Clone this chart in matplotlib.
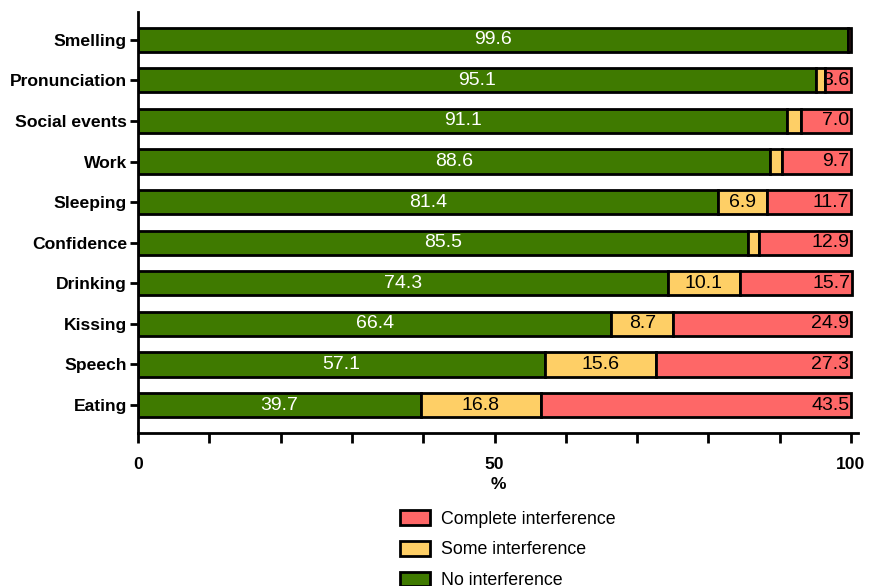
import matplotlib.pyplot as plt
from matplotlib.ticker import MultipleLocator
import numpy as np

plt.rcParams['font.family'] = ['Liberation Sans', 'DejaVu Sans']

# Data (top to bottom in the chart)
categories = ['Smelling', 'Pronunciation', 'Social events', 'Work', 'Sleeping',
              'Confidence', 'Drinking', 'Kissing', 'Speech', 'Eating']
no_int = [99.6, 95.1, 91.1, 88.6, 81.4, 85.5, 74.3, 66.4, 57.1, 39.7]
some_int = [0.0, 1.3, 1.9, 1.7, 6.9, 1.6, 10.1, 8.7, 15.6, 16.8]
complete_int = [0.4, 3.6, 7.0, 9.7, 11.7, 12.9, 15.7, 24.9, 27.3, 43.5]

green = '#3f7a00'
yellow = '#fecf66'
red = '#fe6767'

fig = plt.figure(figsize=(8.8, 5.86), dpi=100)
ax = fig.add_axes([0.157, 0.261, 0.818, 0.719])

y = np.arange(len(categories))[::-1]
h = 0.6
kw = dict(height=h, edgecolor='black', linewidth=2)
b1 = ax.barh(y, no_int, color=green, label='No interference', **kw)
b2 = ax.barh(y, some_int, left=no_int, color=yellow, label='Some interference', **kw)
left3 = [a + b for a, b in zip(no_int, some_int)]
b3 = ax.barh(y, complete_int, left=left3, color=red, label='Complete interference', **kw)

for yi, g, s, c, l3 in zip(y, no_int, some_int, complete_int, left3):
    ax.text(g / 2, yi, f'{g:.1f}', ha='center', va='center', color='white', fontsize=14)
    if s >= 5:
        ax.text(g + s / 2, yi, f'{s:.1f}', ha='center', va='center', color='black', fontsize=14)
    if c >= 3:
        ax.text(l3 + c - 0.2, yi, f'{c:.1f}', ha='right', va='center', color='black', fontsize=14)

ax.set_xlim(0, 101)
ax.set_ylim(-0.69, len(categories) - 0.31)
ax.set_yticks(y)
ax.set_yticklabels(categories, fontweight='bold', fontsize=12.6)
ax.xaxis.set_minor_locator(MultipleLocator(10))
ax.set_xticks([0, 50, 100])
ax.set_xticklabels(['0', '50', '100'], fontweight='bold', fontsize=12.6)
ax.tick_params(axis='x', which='major', length=7, width=2, pad=10)
ax.tick_params(axis='x', which='minor', length=7, width=2)
ax.tick_params(axis='y', length=6, width=2, pad=2)
ax.set_xlabel('%', fontweight='bold', fontsize=12.6, labelpad=4)

for side in ['top', 'right']:
    ax.spines[side].set_visible(False)
for side in ['left', 'bottom']:
    ax.spines[side].set_linewidth(2)

fig.legend(handles=[b3, b2, b1], loc='upper left', bbox_to_anchor=(0.436, 0.157),
           frameon=False, fontsize=12.8, handlelength=1.7, handleheight=0.9,
           labelspacing=0.75, handletextpad=0.6)

plt.savefig('out.png', dpi=100)
